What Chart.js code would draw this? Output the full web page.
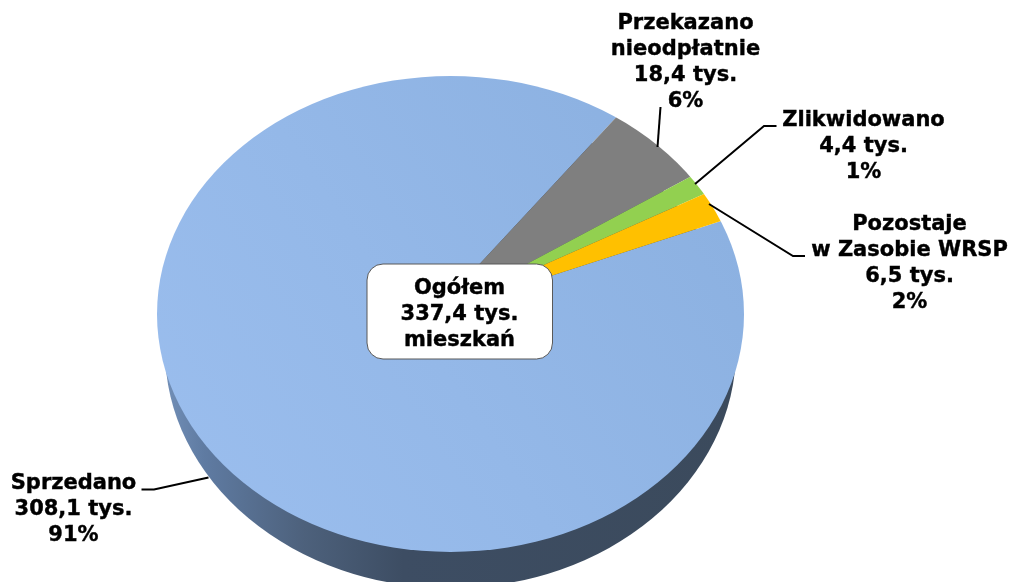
<!DOCTYPE html>
<html>
<head>
<meta charset="utf-8">
<style>
html, body { margin: 0; padding: 0; background: #fff; overflow: hidden; }
canvas { display: block; }
</style>
<script src="https://cdn.jsdelivr.net/npm/chart.js@4/dist/chart.umd.min.js"></script>
</head>
<body>
<canvas id="myChart" width="1010" height="582"></canvas>
<script>
const categories = ['Sprzedano', 'Przekazano nieodpłatnie', 'Zlikwidowano', 'Pozostaje w Zasobie WRSP'];
const values = [308.1, 18.4, 4.4, 6.5];
const valueLabels = ['308,1 tys.', '18,4 tys.', '4,4 tys.', '6,5 tys.'];
const percentLabels = ['91%', '6%', '1%', '2%'];
const totalLabels = ['Ogółem', '337,4 tys.', 'mieszkań'];

// outline of the pie top and how deep the side wall is
const disc = { x: 450.5, y: 314, rx: 293.5, ry: 238, depth: 36 };
const tilt = disc.ry / disc.rx;

const font = 'bold 21px "DejaVu Sans"';

// label blocks: centre x, first baseline, line breaks per category
const labelBlocks = [
    { x: 73.5, y: 489, lines: ['Sprzedano', valueLabels[0], percentLabels[0]] },
    { x: 685.5, y: 29, lines: ['Przekazano', 'nieodpłatnie', valueLabels[1], percentLabels[1]] },
    { x: 863.5, y: 126, lines: ['Zlikwidowano', valueLabels[2], percentLabels[2]] },
    { x: 909.5, y: 230, lines: ['Pozostaje', 'w Zasobie WRSP', valueLabels[3], percentLabels[3]] }
];
const leaders = [
    [[141.5, 489.5], [154, 489.5], [208.5, 477.5]],
    [[660.5, 107], [657.5, 147]],
    [[776.5, 126], [764, 126], [695, 184]],
    [[805, 256], [793, 256], [709, 204]]
];

const ctx = document.getElementById('myChart').getContext('2d');

// the wedges meet left of the disc centre, as in a perspective view, so the
// pie is drawn larger around that point and cut to the disc outline
const apexY = disc.y;

const topBlue = ctx.createLinearGradient(157, 560, 744, 240);
topBlue.addColorStop(0, '#9bbeee');
topBlue.addColorStop(0.5, '#94b8e8');
topBlue.addColorStop(1, '#8cb1e1');

const discPlugin = {
    id: 'disc',
    beforeDatasetsDraw(chart) {
        const c = chart.ctx;
        // side wall
        const side = c.createLinearGradient(disc.x - disc.rx, 0, disc.x + disc.rx, 0);
        side.addColorStop(0, '#7693bb');
        side.addColorStop(0.08, '#5f7ba2');
        side.addColorStop(0.25, '#4d617c');
        side.addColorStop(0.42, '#3d4d63');
        side.addColorStop(1, '#3b4a5c');
        c.save();
        c.fillStyle = side;
        c.beginPath();
        c.ellipse(disc.x, disc.y + disc.depth, disc.rx - 8, disc.ry, 0, 0, Math.PI * 2);
        c.fill();
        c.restore();
        // top face
        c.save();
        c.beginPath();
        c.ellipse(disc.x, disc.y, disc.rx, disc.ry, 0, 0, Math.PI * 2);
        c.clip();
        c.translate(0, apexY);
        c.scale(1, tilt);
        c.translate(0, -apexY);
    },
    afterDatasetsDraw(chart) {
        chart.ctx.restore();
    },
    afterDraw(chart) {
        const c = chart.ctx;
        c.save();
        c.strokeStyle = '#000';
        c.lineWidth = 2;
        leaders.forEach(points => {
            c.beginPath();
            points.forEach(([x, y], i) => (i ? c.lineTo(x, y) : c.moveTo(x, y)));
            c.stroke();
        });

        // box in the middle
        c.fillStyle = '#fff';
        c.strokeStyle = '#595959';
        c.lineWidth = 1;
        c.beginPath();
        c.roundRect(367, 264, 185.5, 95, 16);
        c.fill();
        c.stroke();

        c.fillStyle = '#000';
        c.strokeStyle = '#000';
        c.lineWidth = 0.4;
        c.font = font;
        c.textAlign = 'center';
        c.textBaseline = 'alphabetic';
        const put = (line, x, y) => {
            c.fillText(line, x, y);
            c.strokeText(line, x, y);
        };
        labelBlocks.forEach(block => {
            block.lines.forEach((line, i) => put(line, block.x, block.y + i * 26));
        });
        totalLabels.forEach((line, i) => put(line, 459.5, 294 + i * 26));
        c.restore();
    }
};

new Chart(ctx, {
    type: 'pie',
    data: {
        labels: categories,
        datasets: [{
            data: values,
            backgroundColor: [topBlue, '#7f7f7f', '#92d050', '#ffc000'],
            borderWidth: 0,
            clip: false
        }]
    },
    options: {
        responsive: false,
        animation: false,
        rotation: 68.3,
        radius: 330,
        // chart area centred on the point where the wedges meet (433, 314)
        layout: { padding: { top: 46, right: 144 } },
        plugins: { legend: { display: false }, tooltip: { enabled: false } }
    },
    plugins: [discPlugin]
});
</script>
</body>
</html>
